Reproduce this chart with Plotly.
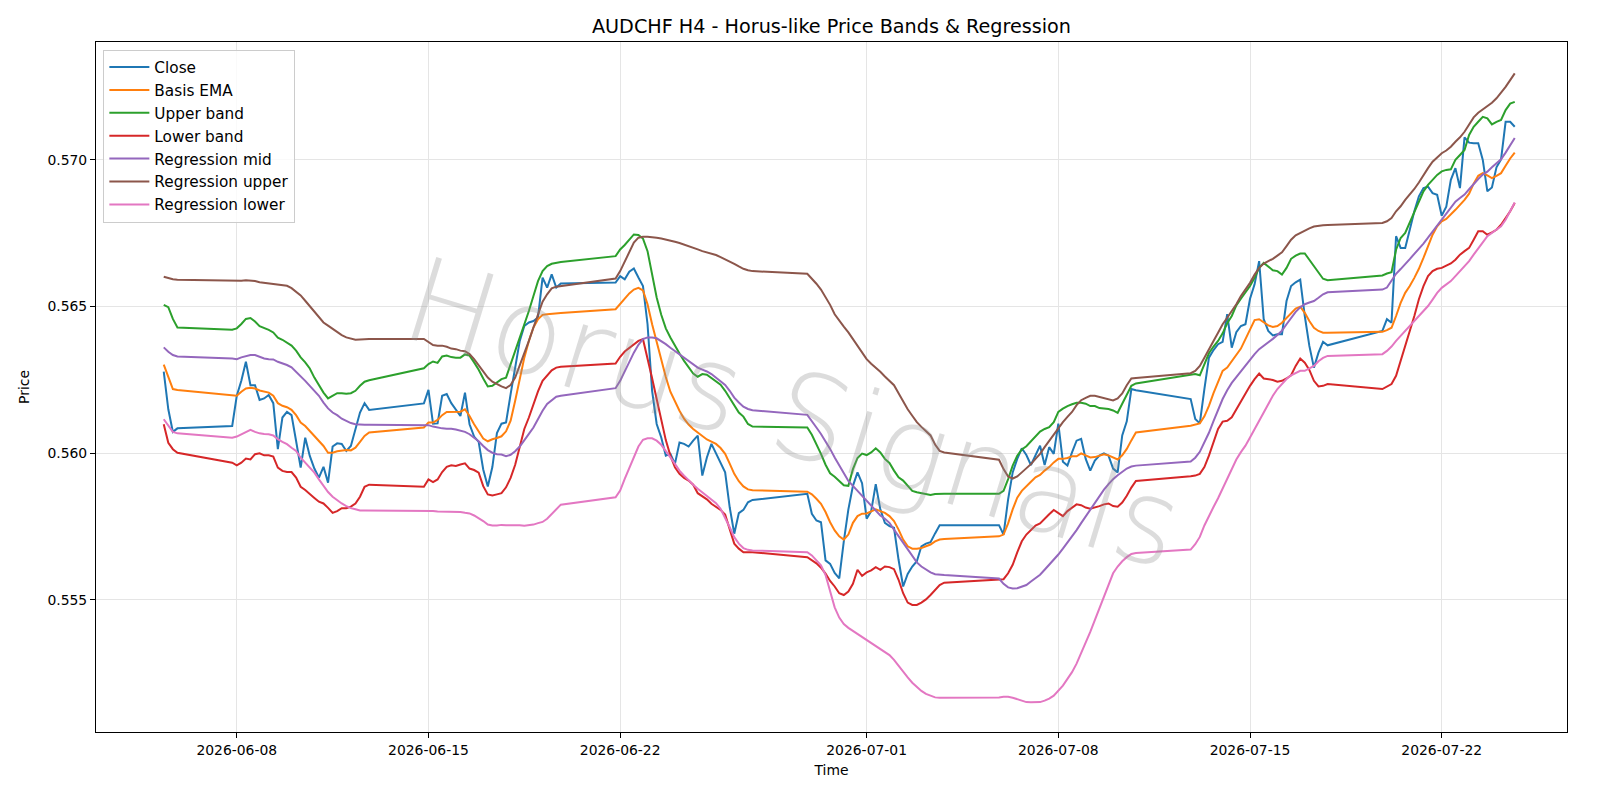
import pandas as pd
import plotly.graph_objects as go

# ---------------- data (H4 bars) ----------------
FIRST_BAR = "2026-06-05 08:00"
LAST_BAR = "2026-07-24 16:00"

close = [
    0.56278, 0.56150, 0.56073, 0.56085,
    0.56093,
    0.56196, 0.56247, 0.56312, 0.56232, 0.56232, 0.56182,
    0.56187, 0.56199, 0.56171, 0.56014, 0.56122, 0.56141,
    0.56130, 0.56042, 0.55951, 0.56053, 0.55991, 0.55948,
    0.55917, 0.55954, 0.55900, 0.56023, 0.56034, 0.56032,
    0.56008, 0.56025, 0.56082, 0.56139, 0.56171, 0.56148,
    0.56170,
    0.56216, 0.56101, 0.56102, 0.56196, 0.56202, 0.56171,
    0.56150, 0.56127, 0.56207, 0.56099, 0.56057, 0.56039,
    0.55945, 0.55887, 0.55953, 0.56069, 0.56101, 0.56105,
    0.56202, 0.56292, 0.56383, 0.56434, 0.56446, 0.56451,
    0.56463, 0.56599, 0.56565, 0.56610, 0.56565, 0.56579,
    0.56582,
    0.56604, 0.56593, 0.56619, 0.56630, 0.56599, 0.56570,
    0.56440, 0.56213, 0.56100, 0.56054, 0.55992, 0.55998,
    0.55964, 0.56037, 0.56032, 0.56023, 0.56043, 0.56060,
    0.55924, 0.55986, 0.56032, 0.55998, 0.55964, 0.55935,
    0.55816, 0.55726, 0.55796, 0.55807, 0.55833, 0.55841,
    0.55862,
    0.55794, 0.55771, 0.55765, 0.55635, 0.55623, 0.55592,
    0.55574, 0.55700, 0.55809, 0.55889, 0.55935, 0.55898,
    0.55777, 0.55803, 0.55895, 0.55809, 0.55763, 0.55752,
    0.55746, 0.55637, 0.55546, 0.55589, 0.55614, 0.55632,
    0.55683, 0.55692, 0.55697, 0.55727, 0.55755, 0.55755,
    0.55755,
    0.55723, 0.55843, 0.55935, 0.55981, 0.56017, 0.55994,
    0.55960, 0.55992, 0.56026, 0.55960, 0.56021, 0.55998,
    0.56101, 0.55971, 0.55958, 0.56003, 0.56043, 0.56049,
    0.55981, 0.55941, 0.55975, 0.55992, 0.56000, 0.55992,
    0.55948, 0.55935, 0.56061, 0.56109, 0.56219, 0.56215,
    0.56185,
    0.56117, 0.56102, 0.56219, 0.56326, 0.56352, 0.56372,
    0.56380, 0.56474, 0.56360, 0.56413, 0.56434, 0.56440,
    0.56527, 0.56576, 0.56655, 0.56457, 0.56417, 0.56402,
    0.56406, 0.56406, 0.56519, 0.56570, 0.56583, 0.56592,
    0.56468, 0.56366, 0.56292, 0.56343, 0.56380, 0.56368,
    0.56417,
    0.56457, 0.56445, 0.56740, 0.56700, 0.56700, 0.56762,
    0.56825, 0.56876, 0.56904, 0.56909, 0.56887, 0.56881,
    0.56810, 0.56841, 0.56932, 0.56972, 0.56904, 0.57077,
    0.57059, 0.57057, 0.57057, 0.57000, 0.56893, 0.56906,
    0.56975, 0.57002, 0.57130, 0.57130, 0.57113,
]

basis_ema = [
    0.56302, 0.56258, 0.56219, 0.56216,
    0.56196,
    0.56196, 0.56210, 0.56221, 0.56223, 0.56221, 0.56214,
    0.56210, 0.56207, 0.56196, 0.56171, 0.56162, 0.56157,
    0.56148, 0.56130, 0.56105, 0.56093, 0.56076, 0.56059,
    0.56042, 0.56025, 0.56002, 0.56002, 0.56007, 0.56010,
    0.56011, 0.56010, 0.56019, 0.56039, 0.56059, 0.56071,
    0.56088,
    0.56105, 0.56105, 0.56114, 0.56130, 0.56141, 0.56142,
    0.56141, 0.56142, 0.56150, 0.56127, 0.56099, 0.56073,
    0.56050, 0.56041, 0.56048, 0.56052, 0.56058, 0.56075,
    0.56111, 0.56179, 0.56258, 0.56326, 0.56383, 0.56429,
    0.56457, 0.56472, 0.56474, 0.56476, 0.56477, 0.56478,
    0.56491,
    0.56510, 0.56528, 0.56545, 0.56558, 0.56564, 0.56555,
    0.56508, 0.56440, 0.56380, 0.56318, 0.56260, 0.56210,
    0.56175, 0.56145, 0.56118, 0.56098, 0.56083, 0.56070,
    0.56058, 0.56047, 0.56040, 0.56032, 0.56018, 0.55998,
    0.55965, 0.55930, 0.55905, 0.55887, 0.55877, 0.55874,
    0.55869,
    0.55860, 0.55845, 0.55828, 0.55800, 0.55765, 0.55737,
    0.55717, 0.55706, 0.55723, 0.55763, 0.55786, 0.55794,
    0.55795, 0.55802, 0.55809, 0.55803, 0.55797, 0.55786,
    0.55769, 0.55740, 0.55706, 0.55683, 0.55675, 0.55675,
    0.55677, 0.55683, 0.55689, 0.55700, 0.55706, 0.55708,
    0.55717,
    0.55723, 0.55761, 0.55809, 0.55849, 0.55872, 0.55889,
    0.55903, 0.55918, 0.55926, 0.55941, 0.55953, 0.55969,
    0.55981, 0.55981, 0.55984, 0.55990, 0.55990, 0.56000,
    0.55993, 0.55986, 0.55987, 0.55993, 0.55997, 0.55993,
    0.55987, 0.55979, 0.55993, 0.56015, 0.56044, 0.56071,
    0.56094,
    0.56097, 0.56102, 0.56126, 0.56162, 0.56205, 0.56241,
    0.56281, 0.56292, 0.56315, 0.56338, 0.56357, 0.56389,
    0.56423, 0.56454, 0.56457, 0.56445, 0.56436, 0.56431,
    0.56434, 0.56445, 0.56462, 0.56479, 0.56493, 0.56500,
    0.56479, 0.56451, 0.56428, 0.56417, 0.56411, 0.56411,
    0.56414,
    0.56420, 0.56428, 0.56468, 0.56513, 0.56547, 0.56570,
    0.56598, 0.56629, 0.56666, 0.56706, 0.56745, 0.56774,
    0.56791, 0.56799, 0.56813, 0.56830, 0.56847, 0.56864,
    0.56885, 0.56919, 0.56946, 0.56955, 0.56947, 0.56938,
    0.56946, 0.56955, 0.56980, 0.57005, 0.57025,
]

upper_band = [
    0.56506, 0.56498, 0.56458, 0.56429,
    0.56421,
    0.56426, 0.56441, 0.56458, 0.56461, 0.56449, 0.56433,
    0.56428, 0.56421, 0.56412, 0.56394, 0.56387, 0.56378,
    0.56367, 0.56350, 0.56327, 0.56310, 0.56289, 0.56258,
    0.56230, 0.56207, 0.56187, 0.56196, 0.56205, 0.56205,
    0.56203, 0.56205, 0.56213, 0.56230, 0.56244, 0.56249,
    0.56290,
    0.56304, 0.56313, 0.56308, 0.56330, 0.56333, 0.56328,
    0.56326, 0.56326, 0.56337, 0.56333, 0.56310, 0.56285,
    0.56255, 0.56228, 0.56230, 0.56241, 0.56253, 0.56258,
    0.56304, 0.56349, 0.56389, 0.56434, 0.56485, 0.56536,
    0.56587, 0.56621, 0.56638, 0.56646, 0.56650, 0.56652,
    0.56672,
    0.56695, 0.56710, 0.56729, 0.56746, 0.56744, 0.56732,
    0.56689, 0.56610, 0.56531, 0.56472, 0.56426, 0.56395,
    0.56366, 0.56340, 0.56315, 0.56292, 0.56272, 0.56261,
    0.56270, 0.56268, 0.56256, 0.56245, 0.56234, 0.56213,
    0.56188, 0.56162, 0.56139, 0.56125, 0.56100, 0.56091,
    0.56088,
    0.56063, 0.56032, 0.55998, 0.55961, 0.55932, 0.55920,
    0.55906, 0.55891, 0.55889, 0.55946, 0.55984, 0.55999,
    0.55994, 0.56003, 0.56017, 0.56003, 0.55981, 0.55967,
    0.55941, 0.55918, 0.55907, 0.55889, 0.55872, 0.55867,
    0.55864, 0.55861, 0.55858, 0.55861, 0.55862, 0.55862,
    0.55862,
    0.55872, 0.55912, 0.55958, 0.55992, 0.56013, 0.56024,
    0.56040, 0.56058, 0.56074, 0.56083, 0.56089, 0.56106,
    0.56141, 0.56152, 0.56161, 0.56167, 0.56172, 0.56172,
    0.56169, 0.56161, 0.56161, 0.56154, 0.56152, 0.56151,
    0.56146, 0.56138, 0.56169, 0.56200, 0.56230, 0.56238,
    0.56266,
    0.56270, 0.56266, 0.56303, 0.56341, 0.56364, 0.56383,
    0.56409, 0.56443, 0.56468, 0.56504, 0.56527, 0.56547,
    0.56570, 0.56598, 0.56632, 0.56649, 0.56636, 0.56624,
    0.56621, 0.56609, 0.56632, 0.56663, 0.56674, 0.56681,
    0.56681, 0.56660, 0.56638, 0.56617, 0.56595, 0.56590,
    0.56606,
    0.56613, 0.56617, 0.56694, 0.56734, 0.56751, 0.56785,
    0.56819, 0.56853, 0.56893, 0.56915, 0.56932, 0.56949,
    0.56961, 0.56966, 0.56968, 0.57000, 0.57017, 0.57034,
    0.57085, 0.57113, 0.57130, 0.57147, 0.57142, 0.57121,
    0.57130, 0.57136, 0.57170, 0.57192, 0.57198,
]

lower_band = [
    0.56099, 0.56036, 0.56014, 0.56002,
    0.55968,
    0.55959, 0.55968, 0.55982, 0.55979, 0.55997, 0.56000,
    0.55993, 0.55993, 0.55989, 0.55951, 0.55940, 0.55936,
    0.55936, 0.55917, 0.55886, 0.55875, 0.55863, 0.55848,
    0.55835, 0.55829, 0.55814, 0.55797, 0.55803, 0.55813,
    0.55813, 0.55818, 0.55829, 0.55852, 0.55886, 0.55893,
    0.55886,
    0.55911, 0.55902, 0.55911, 0.55936, 0.55954, 0.55959,
    0.55957, 0.55962, 0.55966, 0.55948, 0.55943, 0.55934,
    0.55888, 0.55860, 0.55856, 0.55860, 0.55864, 0.55884,
    0.55916, 0.55961, 0.56018, 0.56083, 0.56122, 0.56168,
    0.56211, 0.56247, 0.56267, 0.56283, 0.56292, 0.56295,
    0.56306,
    0.56329, 0.56347, 0.56360, 0.56372, 0.56383, 0.56389,
    0.56326, 0.56256, 0.56185, 0.56111, 0.56045, 0.55992,
    0.55952, 0.55930, 0.55916, 0.55907, 0.55893, 0.55864,
    0.55853, 0.55843, 0.55828, 0.55816, 0.55807, 0.55791,
    0.55737, 0.55692, 0.55675, 0.55663, 0.55663, 0.55663,
    0.55646,
    0.55635, 0.55625, 0.55610, 0.55590, 0.55565, 0.55546,
    0.55523, 0.55517, 0.55529, 0.55555, 0.55603, 0.55582,
    0.55594, 0.55601, 0.55612, 0.55603, 0.55614, 0.55612,
    0.55605, 0.55569, 0.55523, 0.55491, 0.55483, 0.55483,
    0.55491, 0.55502, 0.55517, 0.55534, 0.55551, 0.55559,
    0.55569,
    0.55571, 0.55591, 0.55620, 0.55662, 0.55700, 0.55723,
    0.55740, 0.55754, 0.55761, 0.55775, 0.55792, 0.55807,
    0.55797, 0.55786, 0.55803, 0.55815, 0.55826, 0.55823,
    0.55815, 0.55811, 0.55815, 0.55820, 0.55826, 0.55829,
    0.55820, 0.55818, 0.55832, 0.55855, 0.55883, 0.55906,
    0.55922,
    0.55924, 0.55930, 0.55953, 0.55992, 0.56038, 0.56083,
    0.56108, 0.56111, 0.56123, 0.56151, 0.56174, 0.56202,
    0.56230, 0.56253, 0.56272, 0.56255, 0.56253, 0.56250,
    0.56244, 0.56247, 0.56255, 0.56266, 0.56298, 0.56323,
    0.56309, 0.56284, 0.56247, 0.56228, 0.56230, 0.56236,
    0.56219,
    0.56228, 0.56236, 0.56264, 0.56315, 0.56366, 0.56414,
    0.56468, 0.56525, 0.56570, 0.56604, 0.56621, 0.56629,
    0.56632, 0.56640, 0.56647, 0.56660, 0.56677, 0.56689,
    0.56700, 0.56728, 0.56757, 0.56757, 0.56745, 0.56753,
    0.56762, 0.56779, 0.56802, 0.56825, 0.56853,
]

regression_mid = [
    0.56361, 0.56346, 0.56335, 0.56330,
    0.56323,
    0.56321, 0.56327, 0.56332, 0.56335, 0.56335, 0.56330,
    0.56323, 0.56321, 0.56320, 0.56312, 0.56307, 0.56301,
    0.56293, 0.56278, 0.56264, 0.56247, 0.56230, 0.56213,
    0.56196, 0.56173, 0.56153, 0.56139, 0.56130, 0.56118,
    0.56110, 0.56103, 0.56099, 0.56097, 0.56097, 0.56097,
    0.56097,
    0.56096, 0.56091, 0.56087, 0.56085, 0.56084, 0.56084,
    0.56081, 0.56076, 0.56073, 0.56065, 0.56054, 0.56041,
    0.56025, 0.56011, 0.56002, 0.55997, 0.55996, 0.55990,
    0.55995, 0.56007, 0.56023, 0.56043, 0.56066, 0.56088,
    0.56117, 0.56145, 0.56168, 0.56182, 0.56193, 0.56196,
    0.56222,
    0.56247, 0.56281, 0.56315, 0.56343, 0.56370, 0.56389,
    0.56395, 0.56395, 0.56392, 0.56383, 0.56372, 0.56360,
    0.56349, 0.56338, 0.56327, 0.56315, 0.56304, 0.56292,
    0.56285, 0.56279, 0.56270, 0.56258, 0.56247, 0.56233,
    0.56213, 0.56190, 0.56173, 0.56159, 0.56151, 0.56147,
    0.56131,
    0.56111, 0.56088, 0.56066, 0.56041, 0.56015, 0.55986,
    0.55958, 0.55929, 0.55906, 0.55889, 0.55872, 0.55855,
    0.55837, 0.55820, 0.55803, 0.55788, 0.55777, 0.55763,
    0.55740, 0.55717, 0.55695, 0.55672, 0.55649, 0.55628,
    0.55614, 0.55603, 0.55594, 0.55588, 0.55586, 0.55585,
    0.55573,
    0.55555, 0.55543, 0.55539, 0.55540, 0.55546, 0.55551,
    0.55563, 0.55574, 0.55586, 0.55603, 0.55620, 0.55640,
    0.55655, 0.55675, 0.55695, 0.55715, 0.55738, 0.55762,
    0.55785, 0.55810, 0.55833, 0.55855, 0.55876, 0.55895,
    0.55912, 0.55925, 0.55938, 0.55948, 0.55955, 0.55958,
    0.55972,
    0.55985, 0.56005, 0.56035, 0.56070, 0.56110, 0.56150,
    0.56185, 0.56215, 0.56240, 0.56260, 0.56280, 0.56300,
    0.56320, 0.56338, 0.56355, 0.56366, 0.56378, 0.56390,
    0.56403, 0.56418, 0.56440, 0.56462, 0.56482, 0.56498,
    0.56508, 0.56514, 0.56519, 0.56530, 0.56542, 0.56549,
    0.56558,
    0.56565, 0.56591, 0.56612, 0.56628, 0.56644, 0.56662,
    0.56680, 0.56697, 0.56715, 0.56735, 0.56755, 0.56775,
    0.56797, 0.56818, 0.56838, 0.56858, 0.56870, 0.56882,
    0.56900, 0.56918, 0.56935, 0.56950, 0.56960, 0.56975,
    0.56990, 0.57002, 0.57025, 0.57050, 0.57075,
]

regression_upper = [
    0.56602, 0.56598, 0.56593, 0.56592,
    0.56588,
    0.56587, 0.56588, 0.56590, 0.56589, 0.56587, 0.56583,
    0.56581, 0.56580, 0.56579, 0.56576, 0.56574, 0.56571,
    0.56563, 0.56551, 0.56538, 0.56520, 0.56501, 0.56481,
    0.56464, 0.56446, 0.56435, 0.56424, 0.56412, 0.56403,
    0.56395, 0.56390, 0.56387, 0.56388, 0.56390, 0.56390,
    0.56390,
    0.56378, 0.56369, 0.56367, 0.56367, 0.56363, 0.56357,
    0.56355, 0.56350, 0.56348, 0.56338, 0.56321, 0.56301,
    0.56278, 0.56258, 0.56244, 0.56235, 0.56228, 0.56222,
    0.56233, 0.56258, 0.56298, 0.56338, 0.56383, 0.56429,
    0.56474, 0.56517, 0.56542, 0.56562, 0.56568, 0.56570,
    0.56596,
    0.56621, 0.56655, 0.56689, 0.56718, 0.56735, 0.56738,
    0.56738, 0.56737, 0.56735, 0.56732, 0.56729, 0.56726,
    0.56721, 0.56717, 0.56712, 0.56706, 0.56701, 0.56695,
    0.56689, 0.56685, 0.56680, 0.56676, 0.56669, 0.56662,
    0.56655, 0.56646, 0.56637, 0.56629, 0.56624, 0.56621,
    0.56612,
    0.56596, 0.56578, 0.56558, 0.56533, 0.56506, 0.56474,
    0.56455, 0.56432, 0.56412, 0.56390, 0.56368, 0.56345,
    0.56321, 0.56305, 0.56292, 0.56278, 0.56262, 0.56248,
    0.56232, 0.56205, 0.56175, 0.56150, 0.56128, 0.56106,
    0.56090, 0.56075, 0.56061, 0.56030, 0.56008, 0.56003,
    0.55978,
    0.55946, 0.55921, 0.55914, 0.55921, 0.55935, 0.55949,
    0.55963, 0.55981, 0.55998, 0.56021, 0.56043, 0.56066,
    0.56088, 0.56106, 0.56124, 0.56141, 0.56164, 0.56181,
    0.56189, 0.56196, 0.56196, 0.56192, 0.56187, 0.56182,
    0.56180, 0.56187, 0.56204, 0.56232, 0.56255, 0.56257,
    0.56273,
    0.56281, 0.56298, 0.56326, 0.56357, 0.56383, 0.56411,
    0.56440, 0.56462, 0.56485, 0.56508, 0.56536, 0.56558,
    0.56581, 0.56609, 0.56632, 0.56647, 0.56655, 0.56663,
    0.56674, 0.56685, 0.56706, 0.56728, 0.56743, 0.56751,
    0.56760, 0.56767, 0.56773, 0.56776, 0.56777, 0.56778,
    0.56785,
    0.56791, 0.56802, 0.56825, 0.56842, 0.56864, 0.56881,
    0.56901, 0.56923, 0.56949, 0.56972, 0.56994, 0.57009,
    0.57023, 0.57032, 0.57045, 0.57062, 0.57077, 0.57096,
    0.57119, 0.57145, 0.57161, 0.57172, 0.57181, 0.57195,
    0.57210, 0.57229, 0.57249, 0.57272, 0.57295,
]

regression_lower = [
    0.56116, 0.56093, 0.56073, 0.56068,
    0.56053,
    0.56057, 0.56065, 0.56074, 0.56080, 0.56073, 0.56068,
    0.56066, 0.56065, 0.56061, 0.56048, 0.56039, 0.56031,
    0.56019, 0.56008, 0.55985, 0.55968, 0.55951, 0.55934,
    0.55911, 0.55888, 0.55868, 0.55852, 0.55840, 0.55829,
    0.55820, 0.55813, 0.55809, 0.55805, 0.55805, 0.55805,
    0.55805,
    0.55804, 0.55803, 0.55802, 0.55802, 0.55801, 0.55801,
    0.55800, 0.55800, 0.55797, 0.55795, 0.55788, 0.55779,
    0.55769, 0.55757, 0.55754, 0.55754, 0.55756, 0.55755,
    0.55755, 0.55756, 0.55755, 0.55753, 0.55754, 0.55757,
    0.55762, 0.55766, 0.55777, 0.55794, 0.55811, 0.55825,
    0.55850,
    0.55873, 0.55913, 0.55950, 0.55986, 0.56023, 0.56046,
    0.56051, 0.56051, 0.56043, 0.56029, 0.56009, 0.55986,
    0.55964, 0.55941, 0.55924, 0.55907, 0.55893, 0.55879,
    0.55867, 0.55856, 0.55843, 0.55830, 0.55811, 0.55782,
    0.55748, 0.55714, 0.55692, 0.55677, 0.55671, 0.55669,
    0.55663,
    0.55652, 0.55635, 0.55618, 0.55585, 0.55530, 0.55475,
    0.55440, 0.55418, 0.55405, 0.55395, 0.55385, 0.55372,
    0.55362, 0.55352, 0.55343, 0.55333, 0.55323, 0.55312,
    0.55296, 0.55275, 0.55255, 0.55236, 0.55218, 0.55203,
    0.55190, 0.55180, 0.55174, 0.55168, 0.55167, 0.55167,
    0.55168,
    0.55170, 0.55170, 0.55167, 0.55162, 0.55157, 0.55152,
    0.55151, 0.55151, 0.55152, 0.55157, 0.55164, 0.55174,
    0.55191, 0.55208, 0.55231, 0.55254, 0.55283, 0.55317,
    0.55351, 0.55391, 0.55431, 0.55471, 0.55517, 0.55557,
    0.55591, 0.55614, 0.55632, 0.55646, 0.55657, 0.55660,
    0.55672,
    0.55690, 0.55715, 0.55754, 0.55783, 0.55817, 0.55847,
    0.55879, 0.55913, 0.55947, 0.55979, 0.56004, 0.56026,
    0.56054, 0.56083, 0.56111, 0.56139, 0.56168, 0.56196,
    0.56219, 0.56236, 0.56253, 0.56266, 0.56275, 0.56281,
    0.56281, 0.56289, 0.56298, 0.56314, 0.56325, 0.56332,
    0.56338,
    0.56349, 0.56364, 0.56383, 0.56400, 0.56417, 0.56434,
    0.56448, 0.56466, 0.56485, 0.56502, 0.56524, 0.56547,
    0.56564, 0.56576, 0.56587, 0.56604, 0.56621, 0.56638,
    0.56655, 0.56677, 0.56700, 0.56719, 0.56740, 0.56751,
    0.56762, 0.56774, 0.56796, 0.56825, 0.56855,
]

x_tick_values = ["2026-06-08", "2026-06-15", "2026-06-22", "2026-07-01",
                 "2026-07-08", "2026-07-15", "2026-07-22"]
x_tick_labels = ["2026-06-08", "2026-06-15", "2026-06-22", "2026-07-01",
                 "2026-07-08", "2026-07-15", "2026-07-22"]
y_tick_values = [0.555, 0.560, 0.565, 0.570]
y_tick_labels = ["0.555", "0.560", "0.565", "0.570"]

# H4 bar times: market closed on Saturday and on Sunday before 20:00
all_bars = pd.date_range(FIRST_BAR, LAST_BAR, freq="4h")
times = [t for t in all_bars
         if not (t.weekday() == 5 or (t.weekday() == 6 and t.hour < 20))]

series = [
    ("Close", close, "#1f77b4"),
    ("Basis EMA", basis_ema, "#ff7f0e"),
    ("Upper band", upper_band, "#2ca02c"),
    ("Lower band", lower_band, "#d62728"),
    ("Regression mid", regression_mid, "#9467bd"),
    ("Regression upper", regression_upper, "#8c564b"),
    ("Regression lower", regression_lower, "#e377c2"),
]
for name, vals, _ in series:
    assert len(vals) == len(times), (name, len(vals), len(times))

FONT = "DejaVu Sans"
fig = go.Figure()
for name, vals, color in series:
    fig.add_trace(go.Scatter(x=times, y=vals, mode="lines", name=name,
                             line=dict(color=color, width=2)))

fig.update_layout(
    width=1600, height=800,
    margin=dict(l=96, r=33, t=42, b=68),
    paper_bgcolor="white", plot_bgcolor="white",
    font=dict(family=FONT, size=13.9, color="black"),
    title=dict(text="AUDCHF H4 - Horus-like Price Bands & Regression",
               x=0.5, xref="paper", xanchor="center",
               y=1 - 26.5 / 800, yref="container", yanchor="middle",
               font=dict(family=FONT, size=19.2, color="black")),
    showlegend=True,
    legend=dict(x=0.005, y=0.989, xanchor="left", yanchor="top",
                bgcolor="rgba(255,255,255,0.8)", bordercolor="#cccccc",
                borderwidth=1, itemwidth=40,
                font=dict(family=FONT, size=15.3)),
    annotations=[dict(text="Horus Signals", xref="paper", yref="paper",
                      x=0.474, y=0.462, showarrow=False, textangle=17,
                      xanchor="center", yanchor="middle",
                      font=dict(family=FONT, size=118, weight=200,
                                color="rgba(140,140,140,0.30)"))],
)
fig.update_xaxes(
    type="date",
    range=["2026-06-02 20:38", "2026-07-26 13:48"],
    tickmode="array", tickvals=x_tick_values, ticktext=x_tick_labels,
    showline=True, linecolor="black", linewidth=1, mirror=True,
    ticks="outside", ticklen=5, tickcolor="black",
    showgrid=True, gridcolor="#e5e5e5", gridwidth=1, zeroline=False,
    title=dict(text="Time", standoff=8, font=dict(family=FONT, size=13.9)),
)
fig.update_yaxes(
    range=[0.55050, 0.57402],
    tickmode="array", tickvals=y_tick_values, ticktext=y_tick_labels,
    showline=True, linecolor="black", linewidth=1, mirror=True,
    ticks="outside", ticklen=5, tickcolor="black",
    showgrid=True, gridcolor="#e5e5e5", gridwidth=1, zeroline=False,
    title=dict(text="Price", standoff=14, font=dict(family=FONT, size=13.9)),
)

fig.write_html("out.html")
